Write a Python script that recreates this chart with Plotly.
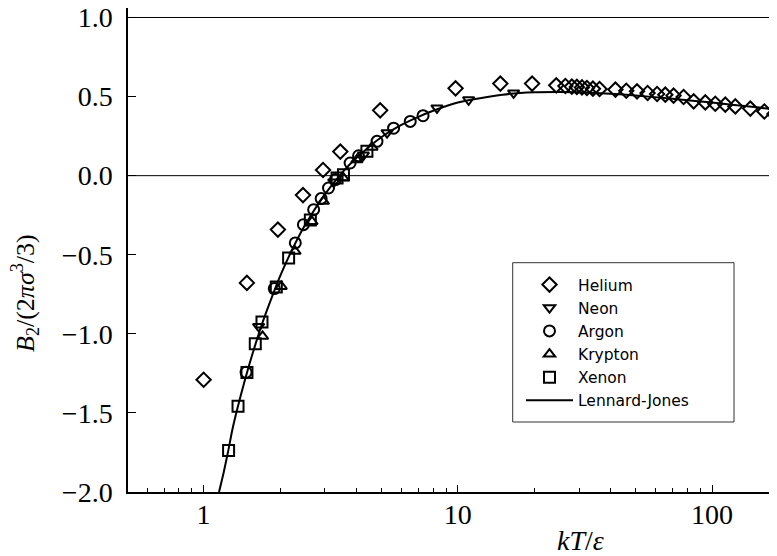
import plotly.graph_objects as go

# ---- data ----
he_T = [1.0, 1.48, 1.96, 2.46, 2.95, 3.45, 4.95, 9.8, 14.7, 19.6, 24.4, 26.5, 28.1, 29.4,
        30.8, 32.2, 34.0, 36.1, 41.7, 46.0, 50.7, 55.8, 60.8, 65.5, 70.6, 77.3, 84.7,
        94.1, 103.0, 112.8, 123.5, 141.5, 160.7, 176.0]
he_B = [-1.29, -0.678, -0.341, -0.123, 0.036, 0.152, 0.413, 0.552, 0.582, 0.582, 0.571,
        0.567, 0.563, 0.561, 0.558, 0.554, 0.550, 0.548, 0.544, 0.537, 0.533, 0.523,
        0.516, 0.512, 0.506, 0.497, 0.470, 0.463, 0.455, 0.449, 0.438, 0.424, 0.406, 0.390]

ne_T = [1.646, 3.25, 4.25, 5.27, 8.28, 11.03, 16.58]
ne_B = [-0.953, -0.04, 0.13, 0.272, 0.428, 0.48, 0.523]

ar_T = [1.469, 1.897, 2.295, 2.47, 2.71, 2.90, 3.10, 3.30, 3.77, 4.07, 4.81, 5.59, 6.50, 7.30]
ar_B = [-1.243, -0.714, -0.425, -0.31, -0.215, -0.145, -0.078, -0.025, 0.08, 0.126, 0.217,
        0.300, 0.343, 0.379]

kr_T = [1.706, 2.02, 2.29, 2.67, 2.96, 3.55, 4.01, 4.6]
kr_B = [-1.016, -0.70, -0.478, -0.29, -0.162, -0.015, 0.10, 0.18]

xe_T = [1.254, 1.366, 1.481, 1.597, 1.697, 1.932, 2.16, 2.63, 3.35, 3.55, 4.39]
xe_B = [-1.738, -1.458, -1.244, -1.062, -0.925, -0.704, -0.52, -0.28, -0.015, 0.006, 0.154]

lj_T = [1.15, 1.2, 1.25, 1.3, 1.4, 1.5, 1.6, 1.7, 1.8, 2.0, 2.25, 2.5, 3.0, 3.5, 4.0, 5.0,
        6.0, 7.0, 8.0, 10.0, 15.0, 20.0, 25.0, 30.0, 40.0, 50.0, 70.0, 100.0, 150.0, 200.0]
lj_B = [-2.0, -1.875, -1.74, -1.60, -1.39, -1.215, -1.065, -0.935, -0.825, -0.635, -0.455,
        -0.315, -0.118, 0.018, 0.113, 0.243, 0.321, 0.372, 0.410, 0.462, 0.512, 0.527,
        0.529, 0.527, 0.518, 0.507, 0.486, 0.462, 0.432, 0.41]

y_ticks = [-2.0, -1.5, -1.0, -0.5, 0.0, 0.5, 1.0]
x_ticks = [1, 10, 100]
x_ticktext = ["1", "10", "100"]
x_minor = [0.6, 0.7, 0.8, 0.9, 2, 3, 4, 5, 6, 7, 8, 9, 20, 30, 40, 50, 60, 70, 80, 90]
ref_lines = [0.0, 1.0]

SERIF = "Liberation Serif"
SANS = "DejaVu Sans"

# layout geometry (page has an 8px body margin)
L, T, W, H = 120, 0, 777, 556
PW, PH = W - L, 484


def px(page_x):
    return (page_x - 8 - L) / PW


def py(page_y):
    return 1 - (page_y - 8 - T) / PH


fig = go.Figure()


def add_pts(name, xs, ys, sym, size):
    fig.add_trace(go.Scatter(
        x=xs, y=ys, mode="markers", name=name, legendgroup=name,
        marker=dict(symbol=sym, size=size, color="black", line=dict(color="black", width=2)),
        cliponaxis=False,
    ))


add_pts("Helium", he_T, he_B, "diamond-open", 11)
add_pts("Neon", ne_T, ne_B, "triangle-down-open", 10)
add_pts("Argon", ar_T, ar_B, "circle-open", 11)
add_pts("Krypton", kr_T, kr_B, "triangle-up-open", 10)
add_pts("Xenon", xe_T, xe_B, "square-open", 11)
fig.add_trace(go.Scatter(
    x=lj_T, y=lj_B, mode="lines", name="Lennard-Jones", legendgroup="Lennard-Jones",
    line=dict(color="black", width=2, shape="spline", smoothing=0.6),
))

for yv in ref_lines:
    fig.add_shape(type="line", xref="paper", x0=0, x1=1, yref="y", y0=yv, y1=yv,
                  line=dict(color="black", width=1), layer="below")

# legend frame
fig.add_shape(type="rect", xref="paper", yref="paper",
              x0=px(512.7), x1=px(734), y0=py(422), y1=py(262.7),
              line=dict(color="#333", width=1), fillcolor="white", layer="below")

fig.update_layout(
    width=W, height=H,
    margin=dict(l=L, r=0, t=T, b=H - T - PH, autoexpand=False),
    plot_bgcolor="white", paper_bgcolor="white",
    showlegend=True,
    legend=dict(
        x=px(507), y=py(268), xanchor="left", yanchor="top",
        bgcolor="rgba(0,0,0,0)", borderwidth=0,
        font=dict(family=SANS, size=15.5, color="black"),
        tracegroupgap=0, itemwidth=47, indentation=14,
    ),
    xaxis=dict(
        type="log", range=[-0.2974, -0.2974 + PW / 254.2], automargin=False,
        tickmode="array", tickvals=x_ticks, ticktext=x_ticktext,
        ticks="inside", ticklen=7, tickwidth=1.3, tickcolor="black",
        showline=True, linecolor="black", linewidth=1.5, mirror=False,
        showgrid=False, zeroline=False,
        tickfont=dict(family=SERIF, size=28, color="black"),
        ticklabelstandoff=-3, ticklabeloverflow="allow",
        minor=dict(tickmode="array", tickvals=x_minor, ticks="inside", ticklen=4,
                   tickwidth=1.2, tickcolor="black", showgrid=False),
    ),
    yaxis=dict(
        range=[-2.0, -2.0 + PH / 158.17], automargin=False,
        tickmode="array", tickvals=y_ticks, tickformat=".1f",
        ticks="inside", ticklen=8, tickwidth=1.3, tickcolor="black",
        showline=True, linecolor="black", linewidth=1.5,
        showgrid=False, zeroline=False,
        tickfont=dict(family=SERIF, size=28, color="black"),
        ticklabelstandoff=8, ticklabeloverflow="allow",
    ),
    annotations=[
        dict(text="<i>kT</i>/<i>ε</i>", xref="paper", yref="paper",
             x=px(580), y=py(540), xanchor="center", yanchor="middle",
             showarrow=False, font=dict(family=SERIF, size=28, color="black")),
        dict(text="<i>B</i><sub>2</sub>/(2<i>πσ</i><sup>3</sup>/3)", xref="paper", yref="paper",
             x=px(25), y=py(293), xanchor="center", yanchor="middle",
             textangle=-90, showarrow=False, font=dict(family=SERIF, size=26, color="black")),
    ],
)

fig.write_html("out.html")
